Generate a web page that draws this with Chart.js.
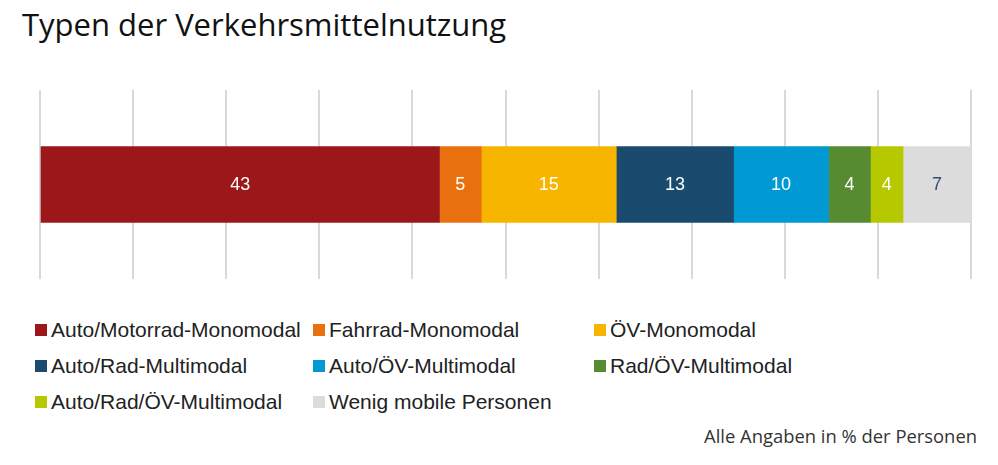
<!DOCTYPE html>
<html>
<head>
<meta charset="utf-8">
<script src="https://cdn.jsdelivr.net/npm/chart.js@4"></script>
<style>
  body { margin: 0; background: #fff; width: 998px; height: 465px; overflow: hidden; position: relative; }
  #title { position: absolute; left: 22px; top: 3px; font-family: "Open Sans", sans-serif; font-size: 31px; color: #111; white-space: nowrap; }
  #wrap { position: absolute; left: 0; top: 0; width: 998px; height: 300px; }
  #legend { position: absolute; left: 35px; top: 319px; display: grid; grid-template-columns: 278px 281px 300px; row-gap: 14px;
            font-family: "Liberation Sans", Arial, sans-serif; font-size: 21px; color: #222; }
  #legend div { display: flex; align-items: center; white-space: nowrap; height: 22px; }
  #legend span.sw { width: 12px; height: 12px; margin-right: 4px; display: inline-block; flex: none; }
  #note { position: absolute; right: 21px; top: 423px; font-family: "Open Sans", sans-serif; font-size: 18.4px; color: #333; white-space: nowrap; }
</style>
</head>
<body>
<div id="title">Typen der Verkehrsmittelnutzung</div>
<div id="wrap"><canvas id="myChart"></canvas></div>
<div id="legend"></div>
<div id="note">Alle Angaben in % der Personen</div>
<script>
// categories (legend order)
const categories = [
    'Auto/Motorrad-Monomodal',
    'Fahrrad-Monomodal',
    'ÖV-Monomodal',
    'Auto/Rad-Multimodal',
    'Auto/ÖV-Multimodal',
    'Rad/ÖV-Multimodal',
    'Auto/Rad/ÖV-Multimodal',
    'Wenig mobile Personen'
];
// shares in %
const shares = [42.9, 4.5, 14.5, 12.6, 10.2, 4.5, 3.5, 7.3];
// rounded values printed on the bar
const shownValues = [43, 5, 15, 13, 10, 4, 4, 7];
const colors = ['#9b1719', '#e8700f', '#f8b500', '#1a4b6e', '#0099d3', '#568b32', '#b6c800', '#dcdcdc'];
const labelColors = ['#fff', '#fff', '#fff', '#fff', '#fff', '#fff', '#fff', '#2e4f73'];
const xTicks = [0, 10, 20, 30, 40, 50, 60, 70, 80, 90, 100];

const valueLabels = {
    id: 'valueLabels',
    afterDatasetsDraw(chart) {
        const ctx = chart.ctx;
        ctx.save();
        ctx.font = '18px "Liberation Sans", Arial, sans-serif';
        ctx.textAlign = 'center';
        ctx.textBaseline = 'middle';
        chart.data.datasets.forEach((ds, i) => {
            const bar = chart.getDatasetMeta(i).data[0];
            const x = (bar.x + bar.base) / 2;
            ctx.fillStyle = labelColors[i];
            ctx.fillText(String(shownValues[i]), x, bar.y + 1);
        });
        ctx.restore();
    }
};

const ctx = document.getElementById('myChart').getContext('2d');
const chart = new Chart(ctx, {
    type: 'bar',
    data: {
        labels: [''],
        datasets: categories.map((c, i) => ({
            label: c,
            data: [shares[i]],
            backgroundColor: colors[i],
            borderWidth: 0,
            barThickness: 76
        }))
    },
    options: {
        indexAxis: 'y',
        responsive: true,
        maintainAspectRatio: false,
        animation: false,
        layout: { padding: { left: 40, right: 27, top: 90, bottom: 21 } },
        plugins: {
            legend: { display: false },
            tooltip: { enabled: false }
        },
        scales: {
            x: {
                stacked: true,
                min: 0,
                max: 100,
                afterBuildTicks: axis => { axis.ticks = xTicks.map(v => ({ value: v })); },
                ticks: { display: false },
                border: { display: false },
                grid: { color: '#d9d9d9', lineWidth: 2, drawTicks: false }
            },
            y: {
                stacked: true,
                display: false
            }
        }
    },
    plugins: [valueLabels]
});

const legend = document.getElementById('legend');
categories.forEach((c, i) => {
    const item = document.createElement('div');
    item.innerHTML = '<span class="sw" style="background:' + colors[i] + '"></span>' + c;
    legend.appendChild(item);
});
</script>
</body>
</html>
